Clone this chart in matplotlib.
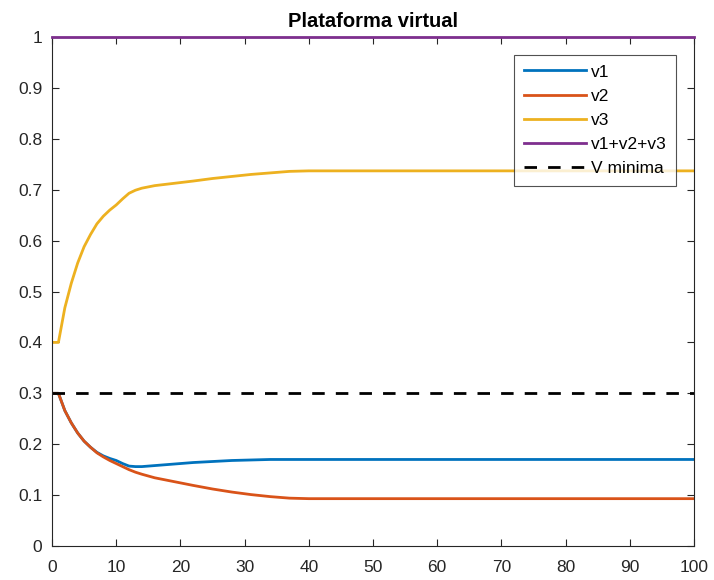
import matplotlib
matplotlib.use("Agg")
import matplotlib.pyplot as plt
import numpy as np

plt.rcParams["font.family"] = ["Liberation Sans", "DejaVu Sans"]

# voltage fractions per step
x = [0, 1, 2, 3, 4, 5, 6, 7, 8, 9, 10, 11, 12, 13, 14, 16, 18, 20, 22,
     25, 28, 31, 34, 37, 40, 100]
v1 = [0.300, 0.300, 0.266, 0.242, 0.222, 0.206, 0.194, 0.184, 0.177, 0.172,
      0.168, 0.162, 0.157, 0.156, 0.156, 0.158, 0.160, 0.162, 0.164, 0.166,
      0.168, 0.169, 0.170, 0.170, 0.170, 0.170]
v2 = [0.300, 0.300, 0.266, 0.242, 0.222, 0.206, 0.194, 0.183, 0.175, 0.168,
      0.162, 0.156, 0.150, 0.145, 0.141, 0.134, 0.129, 0.124, 0.119, 0.112,
      0.106, 0.101, 0.097, 0.094, 0.093, 0.093]
v3 = [0.400, 0.400, 0.468, 0.516, 0.556, 0.588, 0.612, 0.633, 0.648, 0.660,
      0.670, 0.682, 0.693, 0.699, 0.703, 0.708, 0.711, 0.714, 0.717, 0.722,
      0.726, 0.730, 0.733, 0.736, 0.737, 0.737]
v_min = 0.3

x_ticks = list(range(0, 101, 10))
y_ticks = [0, 0.1, 0.2, 0.3, 0.4, 0.5, 0.6, 0.7, 0.8, 0.9, 1]
y_tick_labels = ["0", "0.1", "0.2", "0.3", "0.4", "0.5", "0.6", "0.7", "0.8", "0.9", "1"]

total = np.round(np.array(v1) + np.array(v2) + np.array(v3), 6)

fig = plt.figure(figsize=(7.14, 5.80), dpi=100)
ax = fig.add_axes([52 / 714, 1 - 546 / 580, 642 / 714, 509 / 580])

lw = 2.0
ax.plot(x, v1, color="#0072BD", lw=lw, label="v1")
ax.plot(x, v2, color="#D95319", lw=lw, label="v2")
ax.plot(x, v3, color="#EDB120", lw=lw, label="v3")
ax.plot(x, total, color="#7E2F8E", lw=lw, label="v1+v2+v3", clip_on=False, zorder=5)
ax.plot([x[0], x[-1]], [v_min, v_min], color="black", lw=lw, ls=(0, (4.5, 4)),
        label="V minima")

ax.set_xlim(0, 100)
ax.set_ylim(0, 1)
ax.set_xticks(x_ticks)
ax.set_yticks(y_ticks)
ax.set_yticklabels(y_tick_labels)

axis_color = "#262626"
for s in ax.spines.values():
    s.set_color(axis_color)
    s.set_linewidth(0.8)
ax.tick_params(direction="in", length=5, width=0.8, colors=axis_color,
               labelcolor=axis_color, labelsize=12.5, top=True, right=True)
ax.tick_params(axis="x", pad=10)
ax.tick_params(axis="y", pad=7)

ax.set_title("Plataforma virtual", fontsize=14.5, fontweight="bold", pad=7)

leg = ax.legend(loc="upper right", bbox_to_anchor=(0.972, 0.965), fontsize=12.5,
                frameon=True, fancybox=False, edgecolor=axis_color,
                handlelength=3.6, handletextpad=0.25, labelspacing=0.52,
                borderpad=0.55, borderaxespad=0)
leg.get_frame().set_linewidth(0.8)

fig.savefig("out.png", dpi=100)
